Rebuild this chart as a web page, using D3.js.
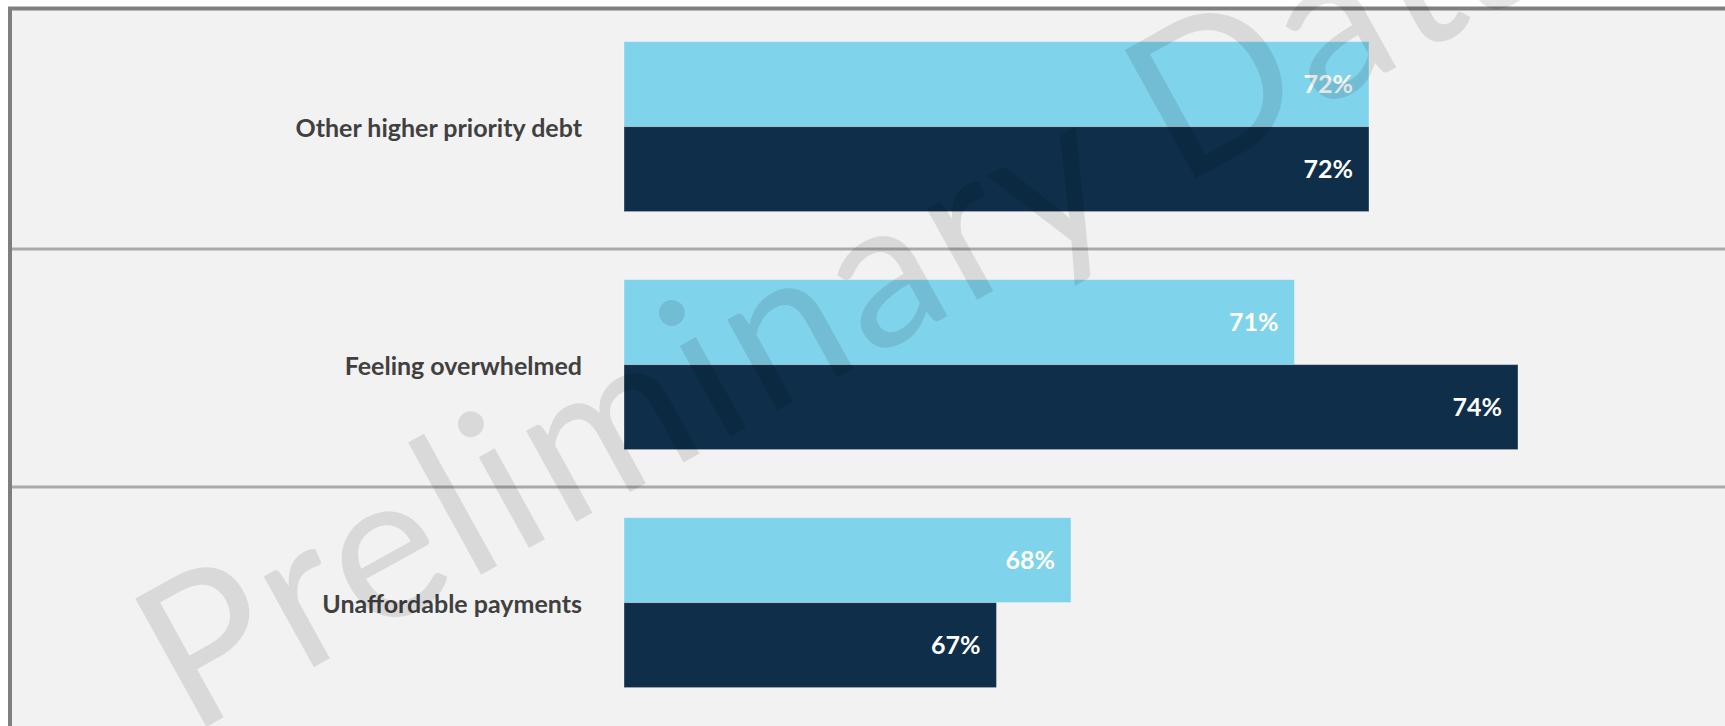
<!DOCTYPE html>
<html>
<head>
<meta charset="utf-8">
<script src="https://cdn.jsdelivr.net/npm/d3@7"></script>
<style>
  html, body { margin: 0; padding: 0; background: #ffffff; }
  svg { display: block; }
</style>
</head>
<body>
<svg id="chart" width="1725" height="726"></svg>
<script>
// Reasons given, share of respondents (%)
const categories = ["Other higher priority debt", "Feeling overwhelmed", "Unaffordable payments"];
const seriesNames = ["Wave 1", "Wave 2"];
const wave1Values = [72, 71, 68];
const wave2Values = [72, 74, 67];
const seriesColors = ["#7FD3EB", "#0E2E4A"];
const watermarkText = "Preliminary Data";

const W = 1725, H = 726;
const svg = d3.select("#chart");

const rows = categories.map((c, i) => ({
  category: c,
  values: [
    { series: seriesNames[0], value: wave1Values[i] },
    { series: seriesNames[1], value: wave2Values[i] }
  ]
}));

// Scales: axis starts at 62%
const x = d3.scaleLinear().domain([62, 76]).range([624, 1667]);
const y0 = d3.scaleBand().domain(categories).range([11, 725]).paddingInner(0).paddingOuter(0);
const y1 = d3.scaleBand().domain(seriesNames).range([0, y0.bandwidth()])
  .paddingInner(0).paddingOuter(0.4).align(0.45);
const color = d3.scaleOrdinal().domain(seriesNames).range(seriesColors);

// Frame and plot background
svg.append("rect")
  .attr("x", 10).attr("y", 8.5)
  .attr("width", W + 20).attr("height", H + 20)
  .attr("fill", "#F2F2F2")
  .attr("stroke", "#7F7F7F")
  .attr("stroke-width", 4);

// Row separators
svg.append("g")
  .selectAll("line")
  .data(categories.slice(0, -1))
  .join("line")
  .attr("x1", 12).attr("x2", W)
  .attr("y1", d => y0(d) + y0.step())
  .attr("y2", d => y0(d) + y0.step())
  .attr("stroke", "#A9A9A9")
  .attr("stroke-width", 3);

// Bars
const groups = svg.append("g")
  .selectAll("g")
  .data(rows)
  .join("g")
  .attr("transform", d => `translate(0,${y0(d.category)})`);

groups.selectAll("rect")
  .data(d => d.values)
  .join("rect")
  .attr("x", x(62))
  .attr("y", d => y1(d.series))
  .attr("width", d => x(d.value) - x(62))
  .attr("height", y1.bandwidth())
  .attr("fill", d => color(d.series))
  .attr("stroke", "rgba(255,255,255,0.35)")
  .attr("stroke-width", 1);

// Value labels inside the bar ends
groups.selectAll("text.value")
  .data(d => d.values)
  .join("text")
  .attr("class", "value")
  .attr("x", d => x(d.value) - 16)
  .attr("y", d => y1(d.series) + y1.bandwidth() / 2)
  .attr("dy", "0.36em")
  .attr("text-anchor", "end")
  .attr("font-family", "Lato, 'Open Sans', sans-serif")
  .attr("font-weight", 700)
  .attr("font-size", 25)
  .attr("fill", "#ffffff")
  .text(d => d.value + "%");

// Category labels
svg.append("g")
  .selectAll("text")
  .data(categories)
  .join("text")
  .attr("x", 582)
  .attr("y", d => y0(d) + y1(seriesNames[1]))
  .attr("dy", "0.42em")
  .attr("text-anchor", "end")
  .attr("font-family", "Lato, 'Open Sans', sans-serif")
  .attr("font-weight", 700)
  .attr("font-size", 25)
  .attr("fill", "#404040")
  .text(d => d);

// Diagonal watermark on top
svg.append("text")
  .attr("transform", "translate(190,736) rotate(-29)")
  .attr("font-family", "Lato, 'Open Sans', sans-serif")
  .attr("font-weight", 400)
  .attr("font-size", 205)
  .attr("letter-spacing", 6)
  .attr("fill", "#000000")
  .attr("fill-opacity", 0.1)
  .text(watermarkText);
</script>
</body>
</html>
